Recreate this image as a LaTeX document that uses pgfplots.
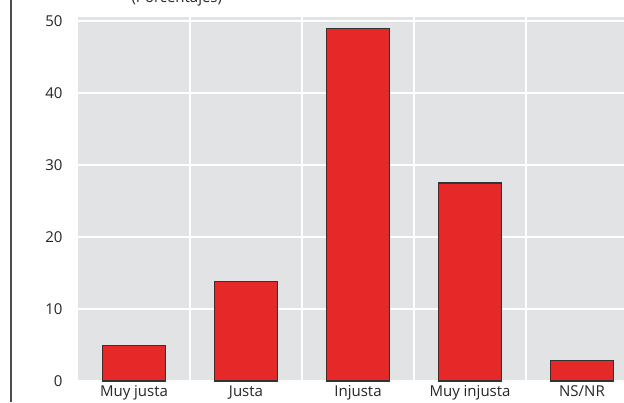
\documentclass[border=0pt]{standalone}
\usepackage{pgfplots}
\pgfplotsset{compat=1.18}
\usepackage{fontspec}
\setmainfont{Open Sans}
\definecolor{bg}{HTML}{E2E3E5}
\definecolor{barred}{HTML}{E62828}
\begin{document}
\begin{tikzpicture}[x=1pt,y=1pt]
\useasboundingbox (0,0) rectangle (624,402);
\clip (0,0) rectangle (624,402);
\begin{axis}[
  at={(78pt,21pt)}, anchor=south west,
  scale only axis, width=546pt, height=364pt,
  xmin=-0.5, xmax=4.375, ymin=0, ymax=50.55,
  axis background/.style={fill=bg},
  axis line style={draw=none},
  ytick={0,10,20,30,40,50},
  xtick={0,1,2,3,4},
  xticklabels={Muy justa,Justa,Injusta,Muy injusta,NS/NR},
  minor xtick={0.5,1.5,2.5,3.5},
  ymajorgrids, xminorgrids,
  grid style={white, line width=2pt},
  major tick length=0pt, minor tick length=0pt,
  tick style={draw=none},
  /pgf/number format/assume math mode=true,
  tick label style={font=\fontsize{15}{17}\selectfont, text=black!85},
  yticklabel style={xshift=-12pt},
  xticklabel style={yshift=-1pt},
  ybar, bar width=63pt,
  clip=false,
]
\addplot[fill=barred, draw=black!80, line width=1.2pt] coordinates {
  (0,4.9) (1,13.8) (2,49.0) (3,27.5) (4,2.9)
};
\end{axis}
\draw[line width=1.5pt, black!70] (11,0) -- (11,402);
\node[anchor=base west, font=\fontsize{15}{17}\selectfont, text=black!85] at (128,399) {(Porcentajes)};
\end{tikzpicture}
\end{document}
